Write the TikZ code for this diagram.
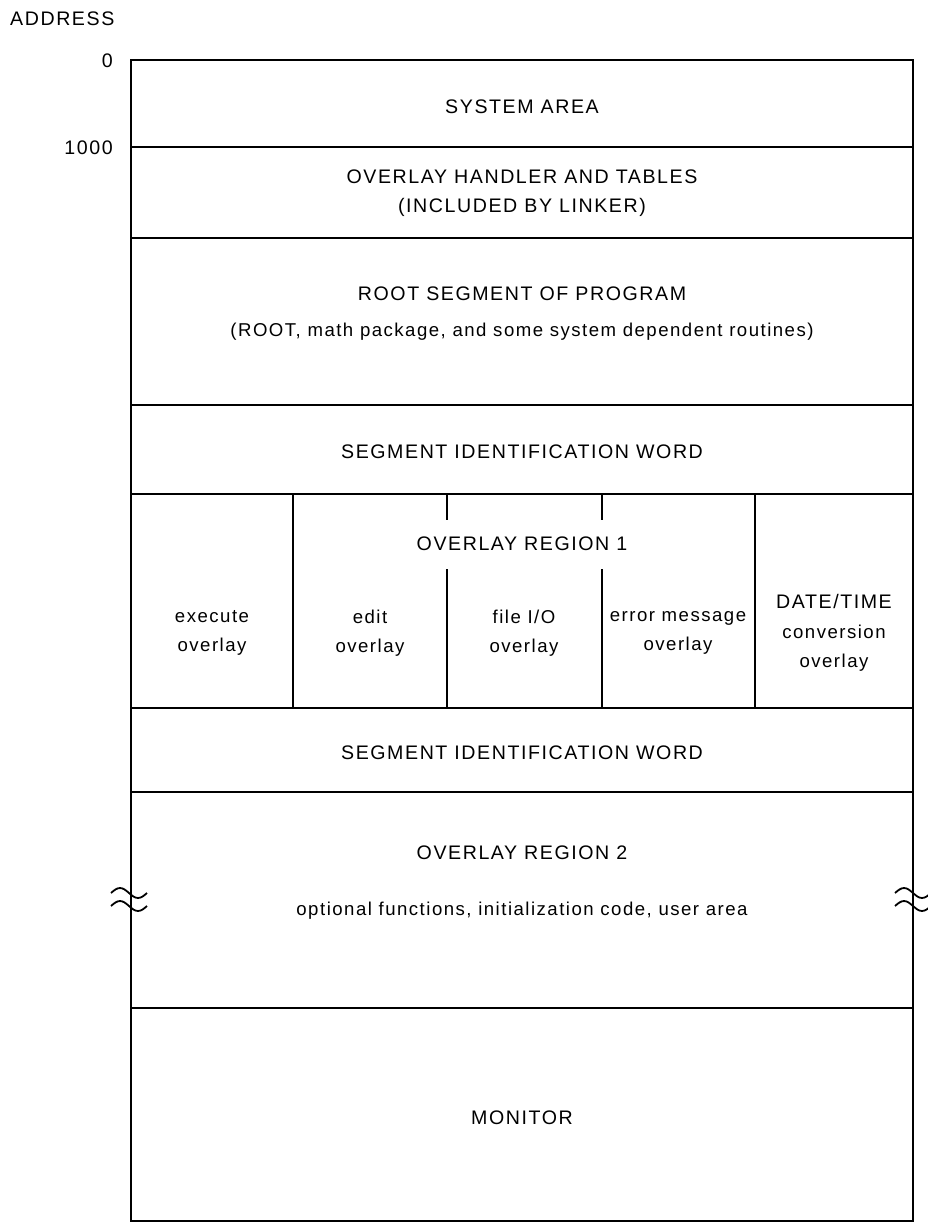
\documentclass[tikz,border=0pt]{standalone}
\usepackage{fontspec}
\setmainfont{Liberation Sans}[LetterSpace=8]
\newcommand{\capsize}{\fontsize{19.6}{29.5}\selectfont}
\begin{document}
\begin{tikzpicture}[x=1pt,y=-1pt]
    \useasboundingbox (0,0) rectangle (928,1223);
    \tikzstyle{wall}=[line width=2.4pt]
    \tikzstyle{squig}=[line width=1.8pt]
    \tikzstyle{lbl}=[inner sep=0pt,align=center,font=\fontsize{18.6}{29.5}\selectfont]
    \tikzstyle{caps}=[lbl,font=\capsize]
    %%%%%%%%%%%%%%%%%%%%%%%%%%%%%%%%%%%%%% Cadre
    \draw[wall] (131,60) rectangle (913,1221);
    \draw[wall] (131,147)--(913,147);
    \draw[wall] (131,238)--(913,238);
    \draw[wall] (131,405)--(913,405);
    \draw[wall] (131,494)--(913,494);
    \draw[wall] (131,708)--(913,708);
    \draw[wall] (131,792)--(913,792);
    \draw[wall] (131,1008)--(913,1008);

    %%%%%%%%%%%%%%%%%%%%%%%%%%%%%%%%%%%%%% Region 1
    \draw[wall] (293,494)--(293,708);
    \draw[wall] (755,494)--(755,708);
    \draw[wall] (447,494)--(447,520);
    \draw[wall] (447,569)--(447,708);
    \draw[wall] (602,494)--(602,520);
    \draw[wall] (602,569)--(602,708);

    %%%%%%%%%%%%%%%%%%%%%%%%%%%%%%%%%%%%%% Coupures
    \draw[squig] (111,893) sin (120,888) cos (129,893) sin (138,898) cos (147,893);
    \draw[squig] (111,906) sin (120,901) cos (129,906) sin (138,911) cos (147,906);
    \draw[squig] (895,893) sin (904,888) cos (913,893) sin (922,898) cos (931,893);
    \draw[squig] (895,906) sin (904,901) cos (913,906) sin (922,911) cos (931,906);

    %%%%%%%%%%%%%%%%%%%%%%%%%%%%%%%%%%%%%% Adresses
    \node[caps,anchor=west] (addr) at (10,19) {ADDRESS};
    \node[caps,anchor=east] (addrzero) at (113,61) {0};
    \node[caps,anchor=east] (addrk) at (113,148) {1000};

    %%%%%%%%%%%%%%%%%%%%%%%%%%%%%%%%%%%%%% Textes
    \node[caps] (sysarea) at (522,107) {SYSTEM AREA};
    \node[caps] (handler) at (522,193) {OVERLAY HANDLER AND TABLES\\(INCLUDED BY LINKER)};
    \node[caps] (root) at (522,294) {ROOT SEGMENT OF PROGRAM};
    \node[lbl] (rootsub) at (522,332) {(ROOT, math package, and some system dependent routines)};
    \node[caps] (siwa) at (522,452) {SEGMENT IDENTIFICATION WORD};
    \node[caps] (ovlaya) at (522,544) {OVERLAY REGION 1};
    \node[lbl] (exec) at (212,633) {execute\\overlay};
    \node[lbl] (edit) at (370,633) {edit\\overlay};
    \node[lbl] (fileio) at (524,633) {file I/O\\overlay};
    \node[lbl] (errmsg) at (678,633) {error message\\overlay};
    \node[lbl] (datetime) at (834,633) {{\capsize DATE/TIME}\\conversion\\overlay};
    \node[caps] (siwb) at (522,753) {SEGMENT IDENTIFICATION WORD};
    \node[caps] (ovlayb) at (522,853) {OVERLAY REGION 2};
    \node[lbl] (optfun) at (522,911) {optional functions, initialization code, user area};
    \node[caps] (monitor) at (522,1118) {MONITOR};
\end{tikzpicture}
\end{document}
